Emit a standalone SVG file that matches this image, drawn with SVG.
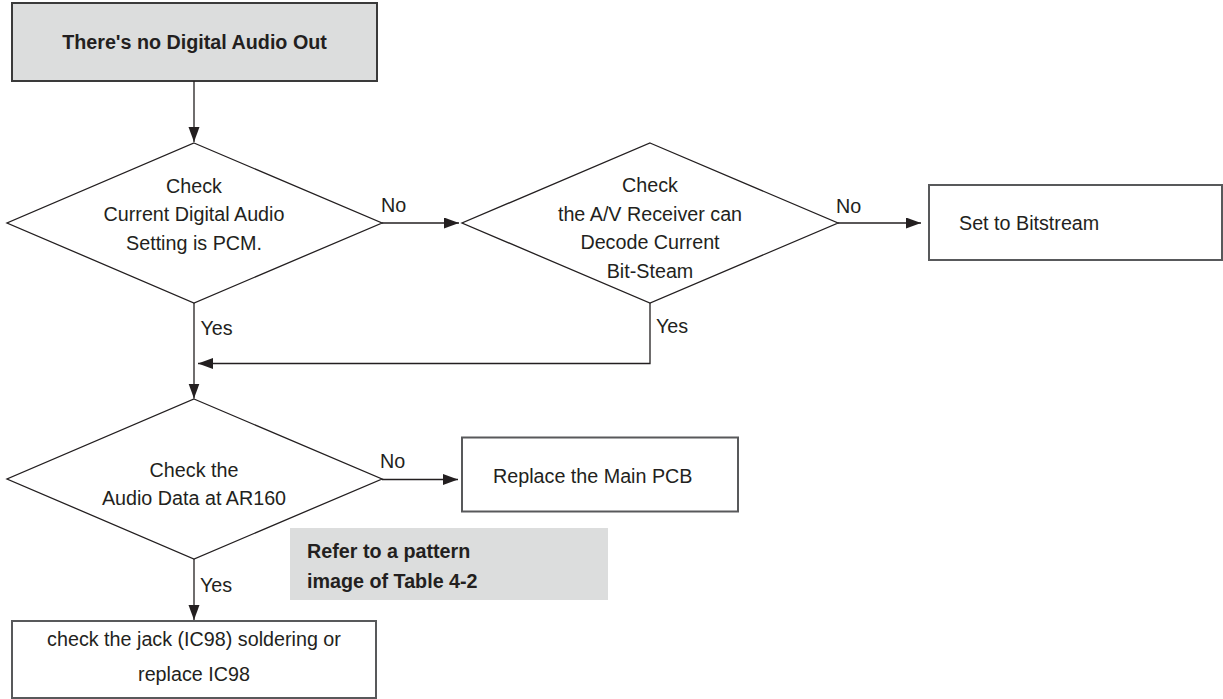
<svg xmlns="http://www.w3.org/2000/svg" width="1223" height="699" viewBox="0 0 1223 699">
  <defs>
    <marker id="arr" markerUnits="userSpaceOnUse" markerWidth="16" markerHeight="12" refX="15" refY="5.5" orient="auto">
      <path d="M0,0 L15,5.5 L0,11 z" fill="#231f20"/>
    </marker>
  </defs>
  <style>
    text { font-family: "Liberation Sans", Arial, sans-serif; font-size: 21px; fill: #231f20; }
    .b { font-weight: bold; }
    .c { text-anchor: middle; }
    .dia { fill: #ffffff; stroke: #231f20; stroke-width: 1.3; }
    .box { fill: #ffffff; stroke: #58595b; stroke-width: 2; }
    .start { fill: #dcdddd; stroke: #3a3a3a; stroke-width: 2; }
    .note { fill: #dcdddd; stroke: none; }
    .con { fill: none; stroke: #231f20; stroke-width: 1.3; }
  </style>
  <rect width="1223" height="699" fill="#ffffff"/>

  <g id="start">
    <rect class="start" x="12" y="3" width="365" height="78"/>
    <text class="b c" transform="scale(0.94,1)" x="206.91" y="49.5">There's no Digital Audio Out</text>
  </g>

  <g id="check-pcm">
    <polygon class="dia" points="194,143 382,223 194,303 7,223"/>
    <text class="c" transform="scale(0.94,1)" x="206.38" y="193">Check</text>
    <text class="c" transform="scale(0.94,1)" x="206.38" y="221.5">Current Digital Audio</text>
    <text class="c" transform="scale(0.94,1)" x="206.38" y="250">Setting is PCM.</text>
  </g>

  <g id="check-receiver">
    <polygon class="dia" points="650,143 838,223 650,303 462,223"/>
    <text class="c" transform="scale(0.94,1)" x="691.49" y="192">Check</text>
    <text class="c" transform="scale(0.94,1)" x="691.49" y="221">the A/V Receiver can</text>
    <text class="c" transform="scale(0.94,1)" x="691.49" y="249.5">Decode Current</text>
    <text class="c" transform="scale(0.94,1)" x="691.49" y="278">Bit-Steam</text>
  </g>

  <g id="set-bitstream">
    <rect class="box" x="929" y="185" width="293" height="75"/>
    <text transform="scale(0.94,1)" x="1020.21" y="230.5">Set to Bitstream</text>
  </g>

  <g id="check-audio-data">
    <polygon class="dia" points="194,399 382,479 194,559 7,479"/>
    <text class="c" transform="scale(0.94,1)" x="206.38" y="477">Check the</text>
    <text class="c" transform="scale(0.94,1)" x="206.38" y="505.5">Audio Data at AR160</text>
  </g>

  <g id="replace-pcb">
    <rect class="box" x="462" y="437.5" width="276" height="74"/>
    <text transform="scale(0.94,1)" x="524.47" y="483">Replace the Main PCB</text>
  </g>

  <g id="note">
    <rect class="note" x="290" y="528" width="318" height="72"/>
    <text class="b" transform="scale(0.94,1)" x="326.6" y="558">Refer to a pattern</text>
    <text class="b" transform="scale(0.94,1)" x="326.6" y="588">image of Table 4-2</text>
  </g>

  <g id="check-jack">
    <rect class="box" x="12" y="621" width="364" height="77"/>
    <text class="c" transform="scale(0.94,1)" x="206.38" y="646">check the jack (IC98) soldering or</text>
    <text class="c" transform="scale(0.94,1)" x="206.38" y="681">replace IC98</text>
  </g>

  <g id="connectors">
    <line class="con" x1="194" y1="81" x2="194" y2="142" marker-end="url(#arr)"/>
    <line class="con" x1="382" y1="223" x2="459" y2="223" marker-end="url(#arr)"/>
    <text transform="scale(0.94,1)" x="405.32" y="212.5">No</text>
    <line class="con" x1="838" y1="223" x2="921" y2="223" marker-end="url(#arr)"/>
    <text transform="scale(0.94,1)" x="889.36" y="213">No</text>
    <polyline class="con" points="650,303 650,363.5 198,363.5" marker-end="url(#arr)"/>
    <text transform="scale(0.94,1)" x="697.87" y="333.5">Yes</text>
    <line class="con" x1="194" y1="303" x2="194" y2="398.5" marker-end="url(#arr)"/>
    <text transform="scale(0.94,1)" x="213.3" y="335.5">Yes</text>
    <line class="con" x1="382" y1="479.5" x2="458" y2="479.5" marker-end="url(#arr)"/>
    <text transform="scale(0.94,1)" x="404.26" y="468">No</text>
    <line class="con" x1="194" y1="559" x2="194" y2="620" marker-end="url(#arr)"/>
    <text transform="scale(0.94,1)" x="212.77" y="592">Yes</text>
  </g>
</svg>
